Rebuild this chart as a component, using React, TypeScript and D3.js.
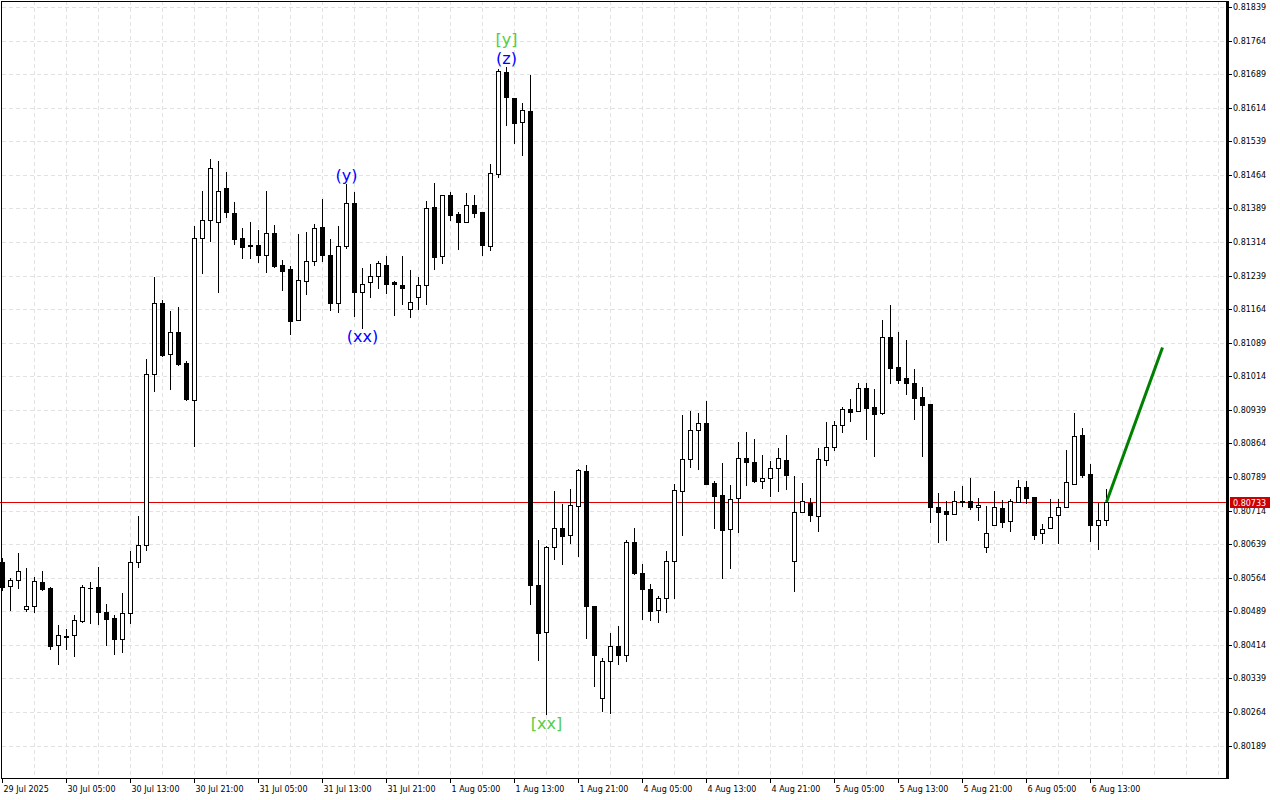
import React from 'react';
import * as d3 from 'd3';

// ---- Data (H1 bars) ----
const opens = [
  0.80599, 0.80546, 0.80558, 0.80493, 0.80501, 0.80554, 0.80541, 0.80413, 0.80432, 0.80435,
  0.80468, 0.80541, 0.80543, 0.80487, 0.80474, 0.80428, 0.80486, 0.80598, 0.80637, 0.81018,
  0.81177, 0.81063, 0.81112, 0.81043, 0.80962, 0.81324, 0.81364, 0.81358, 0.81434, 0.81378,
  0.81323, 0.81304, 0.81308, 0.81284, 0.81335, 0.81262, 0.81253, 0.81140, 0.81226, 0.81271,
  0.81347, 0.81285, 0.81177, 0.81306, 0.81401, 0.81202, 0.81224, 0.81237, 0.81262, 0.81224,
  0.81218, 0.81164, 0.81190, 0.81217, 0.81393, 0.81282, 0.81419, 0.81376, 0.81359, 0.81396,
  0.81381, 0.81304, 0.81465, 0.81693, 0.81635, 0.81582, 0.81606, 0.80547, 0.80443, 0.80632,
  0.80674, 0.80659, 0.80723, 0.80802, 0.80501, 0.80295, 0.80377, 0.80411, 0.80391, 0.80643,
  0.80574, 0.80538, 0.80492, 0.80519, 0.80601, 0.80757, 0.80828, 0.80895, 0.80909, 0.80775,
  0.80748, 0.80672, 0.80741, 0.80831, 0.80822, 0.80779, 0.80786, 0.80808, 0.80827, 0.80601,
  0.80710, 0.80730, 0.80701, 0.80826, 0.80855, 0.80904, 0.80940, 0.80936, 0.80987, 0.80945,
  0.80931, 0.81101, 0.81034, 0.81010, 0.80999, 0.80967, 0.80952, 0.80721, 0.80713, 0.80706,
  0.80735, 0.80735, 0.80722, 0.80632, 0.80681, 0.80719, 0.80690, 0.80734, 0.80766, 0.80744,
  0.80663, 0.80674, 0.80703, 0.80721, 0.80774, 0.80882, 0.80795, 0.80681, 0.80692,
];
const highs = [
  0.80608, 0.80564, 0.80619, 0.80586, 0.80565, 0.80579, 0.80543, 0.80458, 0.80449, 0.80481,
  0.80548, 0.80554, 0.80588, 0.80505, 0.80481, 0.80530, 0.80624, 0.80702, 0.81052, 0.81235,
  0.81184, 0.81159, 0.81168, 0.81049, 0.81349, 0.81429, 0.81499, 0.81494, 0.81470, 0.81403,
  0.81345, 0.81358, 0.81340, 0.81427, 0.81353, 0.81273, 0.81260, 0.81331, 0.81336, 0.81355,
  0.81410, 0.81320, 0.81350, 0.81443, 0.81426, 0.81256, 0.81265, 0.81271, 0.81282, 0.81226,
  0.81282, 0.81251, 0.81235, 0.81405, 0.81445, 0.81420, 0.81425, 0.81381, 0.81424, 0.81419,
  0.81381, 0.81489, 0.81701, 0.81704, 0.81635, 0.81624, 0.81687, 0.80649, 0.80635, 0.80758,
  0.80729, 0.80762, 0.80807, 0.80816, 0.80501, 0.80385, 0.80440, 0.80455, 0.80648, 0.80676,
  0.80595, 0.80550, 0.80523, 0.80624, 0.80773, 0.80927, 0.80936, 0.80932, 0.80959, 0.80781,
  0.80820, 0.80771, 0.80867, 0.80889, 0.80874, 0.80838, 0.80825, 0.80854, 0.80883, 0.80791,
  0.80775, 0.80742, 0.80854, 0.80912, 0.80915, 0.80945, 0.80963, 0.80999, 0.81000, 0.80985,
  0.81139, 0.81173, 0.81113, 0.81095, 0.81030, 0.80990, 0.80952, 0.80753, 0.80735, 0.80758,
  0.80769, 0.80787, 0.80741, 0.80724, 0.80757, 0.80737, 0.80739, 0.80782, 0.80780, 0.80744,
  0.80685, 0.80739, 0.80740, 0.80849, 0.80932, 0.80898, 0.80818, 0.80731, 0.80761,
];
const lows = [
  0.80536, 0.80492, 0.80542, 0.80490, 0.80488, 0.80536, 0.80405, 0.80371, 0.80405, 0.80388,
  0.80464, 0.80463, 0.80461, 0.80414, 0.80394, 0.80399, 0.80463, 0.80588, 0.80626, 0.80982,
  0.81060, 0.80986, 0.81040, 0.80962, 0.80859, 0.81245, 0.81317, 0.81203, 0.81370, 0.81310,
  0.81279, 0.81279, 0.81270, 0.81248, 0.81258, 0.81207, 0.81109, 0.81139, 0.81198, 0.81262,
  0.81272, 0.81163, 0.81158, 0.81300, 0.81149, 0.81122, 0.81191, 0.81212, 0.81199, 0.81151,
  0.81175, 0.81147, 0.81165, 0.81176, 0.81253, 0.81266, 0.81363, 0.81299, 0.81358, 0.81369,
  0.81286, 0.81295, 0.81459, 0.81576, 0.81535, 0.81509, 0.80506, 0.80379, 0.80259, 0.80605,
  0.80595, 0.80642, 0.80613, 0.80429, 0.80323, 0.80267, 0.80262, 0.80372, 0.80377, 0.80572,
  0.80472, 0.80469, 0.80465, 0.80487, 0.80519, 0.80660, 0.80812, 0.80807, 0.80774, 0.80676,
  0.80564, 0.80586, 0.80667, 0.80772, 0.80778, 0.80765, 0.80747, 0.80758, 0.80763, 0.80535,
  0.80710, 0.80691, 0.80669, 0.80815, 0.80849, 0.80890, 0.80915, 0.80936, 0.80874, 0.80836,
  0.80929, 0.80999, 0.80999, 0.80975, 0.80919, 0.80836, 0.80689, 0.80644, 0.80649, 0.80706,
  0.80723, 0.80718, 0.80692, 0.80621, 0.80681, 0.80678, 0.80669, 0.80732, 0.80730, 0.80651,
  0.80642, 0.80674, 0.80641, 0.80721, 0.80774, 0.80788, 0.80647, 0.80629, 0.80681,
];
const closes = [
  0.80543, 0.80558, 0.80578, 0.80500, 0.80556, 0.80539, 0.80411, 0.80435, 0.80434, 0.80469,
  0.80543, 0.80542, 0.80488, 0.80472, 0.80428, 0.80484, 0.80598, 0.80636, 0.81018, 0.81177,
  0.81062, 0.81112, 0.81042, 0.80964, 0.81324, 0.81362, 0.81480, 0.81427, 0.81381, 0.81321,
  0.81303, 0.81308, 0.81284, 0.81333, 0.81261, 0.81250, 0.81138, 0.81228, 0.81271, 0.81346,
  0.81286, 0.81178, 0.81306, 0.81402, 0.81203, 0.81219, 0.81238, 0.81266, 0.81221, 0.81219,
  0.81212, 0.81181, 0.81217, 0.81391, 0.81281, 0.81419, 0.81375, 0.81359, 0.81396, 0.81379,
  0.81308, 0.81467, 0.81695, 0.81637, 0.81580, 0.81608, 0.80547, 0.80440, 0.80632, 0.80674,
  0.80658, 0.80726, 0.80804, 0.80500, 0.80392, 0.80378, 0.80411, 0.80391, 0.80643, 0.80575,
  0.80538, 0.80490, 0.80519, 0.80601, 0.80760, 0.80828, 0.80893, 0.80909, 0.80774, 0.80747,
  0.80671, 0.80739, 0.80831, 0.80823, 0.80779, 0.80786, 0.80808, 0.80831, 0.80793, 0.80710,
  0.80735, 0.80703, 0.80828, 0.80857, 0.80904, 0.80940, 0.80935, 0.80987, 0.80944, 0.80930,
  0.81101, 0.81033, 0.81006, 0.80999, 0.80966, 0.80950, 0.80722, 0.80711, 0.80706, 0.80735,
  0.80732, 0.80721, 0.80726, 0.80663, 0.80721, 0.80689, 0.80735, 0.80766, 0.80743, 0.80660,
  0.80672, 0.80699, 0.80721, 0.80777, 0.80880, 0.80794, 0.80681, 0.80692, 0.80733,
];

const timeTickBars = [0, 8, 16, 24, 32, 40, 48, 56, 64, 72, 80, 88, 96, 104, 112, 120, 128, 136];
const timeTickLabels = [
  '29 Jul 2025', '30 Jul 05:00', '30 Jul 13:00', '30 Jul 21:00', '31 Jul 05:00', '31 Jul 13:00',
  '31 Jul 21:00', '1 Aug 05:00', '1 Aug 13:00', '1 Aug 21:00', '4 Aug 05:00', '4 Aug 13:00',
  '4 Aug 21:00', '5 Aug 05:00', '5 Aug 13:00', '5 Aug 21:00', '6 Aug 05:00', '6 Aug 13:00',
];
const priceTicks = [
  0.81839, 0.81764, 0.81689, 0.81614, 0.81539, 0.81464, 0.81389, 0.81314, 0.81239, 0.81164,
  0.81089, 0.81014, 0.80939, 0.80864, 0.80789, 0.80714, 0.80639, 0.80564, 0.80489, 0.80414,
  0.80339, 0.80264, 0.80189,
];
const currentPrice = 0.80733;
const forecastBars = [138, 145];
const forecastPrices = [0.80733, 0.81078];

const waveTexts = ['(y)', '(xx)', '(z)', '[y]', '[xx]'];
const waveBars = [43, 45, 63, 63, 68];
const waveAnchors = ['high', 'low', 'high', 'high', 'low'];
const waveStack = [0, 0, 0, 1, 0];
const waveColors = ['#0000ff', '#0000ff', '#0000ff', '#55cc44', '#55cc44'];

// ---- Layout ----
const W = 1280;
const H = 800;
const plotLeft = 2;
const plotRight = 1227;
const plotTop = 1;
const plotBottom = 779;
const barStep = 8;

export default function App() {
  const x = d3.scaleLinear().domain([0, (plotRight - plotLeft) / barStep]).range([plotLeft, plotRight]);
  const y = d3.scaleLinear().domain([0.80189, 0.81839]).range([745.5, 7]);
  const snap = (v: number) => Math.round(v) + 0.5;
  const axisFont = "'DejaVu Sans', sans-serif";

  const gridXs = d3.range(1, 39).map((k) => plotLeft + k * 32);

  const candles = opens.map((o, i) => {
    const c = closes[i];
    const cx = Math.round(x(i));
    const bull = c >= o;
    const yTop = Math.round(y(Math.max(o, c)));
    const yBot = Math.round(y(Math.min(o, c)));
    const yH = Math.round(y(highs[i]));
    const yL = Math.round(y(lows[i]));
    const bodyH = yBot - yTop;
    return (
      <g key={i}>
        <line x1={cx + 0.5} x2={cx + 0.5} y1={yH} y2={yL + 1} stroke="#000" strokeWidth={1} />
        {bodyH >= 1 ? (
          <rect
            x={cx - 1.5}
            y={yTop + 0.5}
            width={4}
            height={bodyH}
            fill={bull ? '#fff' : '#000'}
            stroke="#000"
            strokeWidth={1}
          />
        ) : (
          <line x1={cx - 2} x2={cx + 3} y1={yTop + 0.5} y2={yTop + 0.5} stroke="#000" strokeWidth={1} />
        )}
      </g>
    );
  });

  const priceY = snap(y(currentPrice));

  return (
    <div style={{ position: 'absolute', left: 0, top: 0, width: W, height: H }}>
      <svg width={W} height={H} style={{ display: 'block' }}>
        <rect x={0} y={0} width={W} height={H} fill="#fff" />
        <g>
          {priceTicks.map((p, i) => (
            <line
              key={'hg' + i}
              x1={plotLeft}
              x2={plotRight - 1}
              y1={snap(y(p))}
              y2={snap(y(p))}
              stroke="#e2e2e2"
              strokeWidth={1}
              strokeDasharray="4,3"
            />
          ))}
          {gridXs.map((gx, i) => (
            <line
              key={'vg' + i}
              x1={gx + 0.5}
              x2={gx + 0.5}
              y1={plotTop}
              y2={plotBottom}
              stroke="#e2e2e2"
              strokeWidth={1}
              strokeDasharray="4,3"
            />
          ))}
        </g>
        <line x1={0} x2={plotRight - 1} y1={priceY} y2={priceY} stroke="#e00000" strokeWidth={1} />
        <g>{candles}</g>
        <line
          x1={x(forecastBars[0]) + 0.5}
          y1={y(forecastPrices[0])}
          x2={x(forecastBars[1]) + 0.5}
          y2={y(forecastPrices[1])}
          stroke="#008000"
          strokeWidth={3}
        />
        <g fontFamily="'DejaVu Sans', sans-serif" fontSize={16} textAnchor="middle">
          {waveTexts.map((t, i) => {
            const b = waveBars[i];
            const cx = Math.round(x(b)) + 0.5;
            const baseline =
              waveAnchors[i] === 'high'
                ? y(highs[b]) - 3.5 - waveStack[i] * 19
                : y(lows[b]) + 14.5 + waveStack[i] * 19;
            return (
              <text key={'w' + i} x={cx} y={baseline} fill={waveColors[i]}>
                {t}
              </text>
            );
          })}
        </g>
        {/* frame */}
        <line x1={plotLeft - 0.5} x2={plotLeft - 0.5} y1={plotTop} y2={plotBottom} stroke="#000" strokeWidth={1} />
        <line x1={plotLeft - 1} x2={plotRight} y1={plotTop + 0.5} y2={plotTop + 0.5} stroke="#000" strokeWidth={1} />
        <line x1={plotLeft - 1} x2={plotRight} y1={plotBottom - 0.5} y2={plotBottom - 0.5} stroke="#000" strokeWidth={1} />
        <rect x={plotRight - 1} y={plotTop} width={3} height={plotBottom - plotTop} fill="#000" />
        {/* price axis */}
        <g fontFamily={axisFont} fontSize={8} fill="#000">
          {priceTicks.map((p, i) => (
            <g key={'pt' + i}>
              <line x1={plotRight + 2} x2={plotRight + 5} y1={snap(y(p))} y2={snap(y(p))} stroke="#000" strokeWidth={1} />
              <text x={plotRight + 6} y={y(p) + 3}>
                {p.toFixed(5)}
              </text>
            </g>
          ))}
          <rect x={plotRight + 3} y={priceY - 5.5} width={40} height={11} fill="#cc0000" />
          <text x={plotRight + 6} y={priceY + 3} fill="#fff">
            {currentPrice.toFixed(5)}
          </text>
        </g>
        {/* time axis */}
        <g fontFamily={axisFont} fontSize={8} fill="#000">
          {timeTickBars.map((b, i) => {
            const tx = Math.round(x(b)) + 0.5;
            return (
              <g key={'tt' + i}>
                <line x1={tx} x2={tx} y1={plotBottom} y2={plotBottom + 4} stroke="#000" strokeWidth={1} />
                <text x={tx + 1} y={792}>
                  {timeTickLabels[i]}
                </text>
              </g>
            );
          })}
        </g>
      </svg>
    </div>
  );
}
